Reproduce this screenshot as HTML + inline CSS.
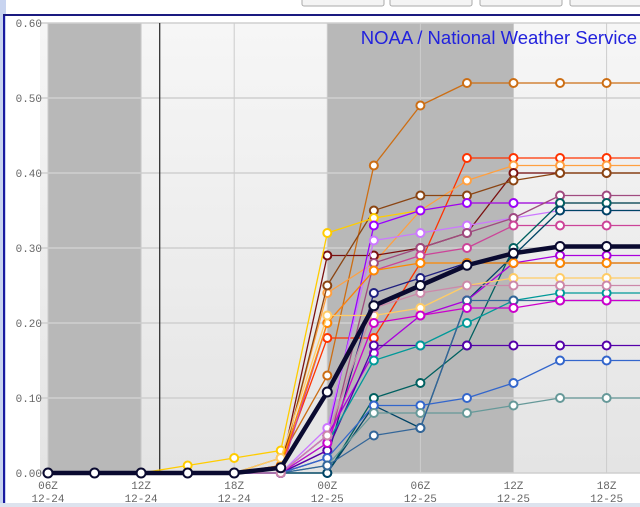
<!DOCTYPE html>
<html><head><meta charset="utf-8"><style>
body{margin:0;width:640px;height:507px;overflow:hidden;background:#fff;font-family:"Liberation Sans",sans-serif}
svg{display:block}
</style></head><body>
<svg id="chart" width="640" height="507" xmlns="http://www.w3.org/2000/svg">
<defs>
<linearGradient id="bg" x1="0" y1="0" x2="0" y2="1"><stop offset="0" stop-color="#f6f6f6"/><stop offset="1" stop-color="#e4e4e4"/></linearGradient>
</defs>
<rect x="0" y="0" width="640" height="507" fill="#fff"/>
<rect x="0" y="0" width="6" height="507" fill="#c8d4f0"/>
<rect x="3" y="14" width="2" height="493" fill="#1a1aa0"/>
<rect x="3" y="14" width="637" height="2" fill="#1a1a80"/>
<rect x="302" y="-4" width="82" height="10" rx="2" fill="#f4f4f4" stroke="#aaa"/>
<rect x="390" y="-4" width="82" height="10" rx="2" fill="#f4f4f4" stroke="#aaa"/>
<rect x="480" y="-4" width="82" height="10" rx="2" fill="#f4f4f4" stroke="#aaa"/>
<rect x="570" y="-4" width="82" height="10" rx="2" fill="#f4f4f4" stroke="#aaa"/>
<rect x="0" y="503" width="640" height="4" fill="#dde3ee"/>
<rect x="40" y="23" width="600" height="450" fill="url(#bg)"/>
<g id="bands"></g><g id="grid"></g><g id="axes"></g><g id="series"></g>
<text x="637" y="44" text-anchor="end" font-size="18.5" fill="#2222dd">NOAA / National Weather Service</text>
</svg>
<script>
const NS="http://www.w3.org/2000/svg";
const yTicks=[0,0.1,0.2,0.3,0.4,0.5,0.6];
const yTickLabels=["0.00","0.10","0.20","0.30","0.40","0.50","0.60"];
const xTickIdx=[0,2,4,6,8,10,12];
const xTickHour=["06Z","12Z","18Z","00Z","06Z","12Z","18Z"];
const xTickDate=["12-24","12-24","12-24","12-25","12-25","12-25","12-25"];
const nightBands=[[0,2],[6,10]];
const nowIdx=2.4;
const seriesColors=["#cc6e14","#ff3300","#ffa040","#7a1010","#8b4513","#ffcc00","#9900ff","#cc77ff","#a04a80","#cc4499","#006060","#004466","#202080","#aa00dd","#ff8800","#5500aa","#3366cc","#669999","#009999","#336699","#ffcc66","#cc00cc","#cc88aa"];
const s0=[0,0,0,0,0,0.02,0.13,0.41,0.49,0.52,0.52,0.52,0.52,0.52];
const s1=[0,0,0,0,0,0.01,0.18,0.18,0.28,0.42,0.42,0.42,0.42,0.42];
const s2=[0,0,0,0,0,0.01,0.24,0.28,0.35,0.39,0.41,0.41,0.41,0.41];
const s3=[0,0,0,0,0,0.005,0.29,0.29,0.30,0.32,0.40,0.40,0.40,0.40];
const s4=[0,0,0,0,0,0.005,0.25,0.35,0.37,0.37,0.39,0.40,0.40,0.40];
const s5=[0,0,0,0.01,0.02,0.03,0.32,0.34,0.35,0.36,0.36,0.36,0.36,0.36];
const s6=[0,0,0,0,0,0,0.05,0.33,0.35,0.36,0.36,0.36,0.36,0.36];
const s7=[0,0,0,0,0,0,0.06,0.31,0.32,0.33,0.34,0.35,0.35,0.35];
const s8=[0,0,0,0,0,0,0.03,0.28,0.30,0.32,0.34,0.37,0.37,0.37];
const s9=[0,0,0,0,0,0,0.20,0.27,0.29,0.30,0.33,0.33,0.33,0.33];
const s10=[0,0,0,0,0,0,0,0.10,0.12,0.17,0.30,0.36,0.36,0.36];
const s11=[0,0,0,0,0,0,0,0.09,0.06,0.23,0.29,0.35,0.35,0.35];
const s12=[0,0,0,0,0,0,0.02,0.24,0.26,0.28,0.28,0.28,0.28,0.28];
const s13=[0,0,0,0,0,0,0.05,0.16,0.21,0.23,0.28,0.29,0.29,0.29];
const s14=[0,0,0,0,0,0.01,0.20,0.27,0.28,0.28,0.28,0.28,0.28,0.28];
const s15=[0,0,0,0,0,0,0.03,0.17,0.17,0.17,0.17,0.17,0.17,0.17];
const s16=[0,0,0,0,0,0,0.02,0.09,0.09,0.10,0.12,0.15,0.15,0.15];
const s17=[0,0,0,0,0,0,0.01,0.08,0.08,0.08,0.09,0.10,0.10,0.10];
const s18=[0,0,0,0,0,0,0.04,0.15,0.17,0.20,0.23,0.24,0.24,0.24];
const s19=[0,0,0,0,0,0,0.01,0.05,0.06,0.23,0.23,0.23,0.23,0.23];
const s20=[0,0,0,0,0,0.02,0.21,0.21,0.22,0.25,0.26,0.26,0.26,0.26];
const s21=[0,0,0,0,0,0,0.04,0.20,0.21,0.22,0.22,0.23,0.23,0.23];
const s22=[0,0,0,0,0,0,0.05,0.22,0.24,0.25,0.25,0.25,0.25,0.25];
const meanValues=[0,0,0,0,0,0.007,0.108,0.223,0.25,0.277,0.293,0.302,0.302,0.302];
const allSeries=[s0,s1,s2,s3,s4,s5,s6,s7,s8,s9,s10,s11,s12,s13,s14,s15,s16,s17,s18,s19,s20,s21,s22];

const X0=48,DX=46.55,Y0=473,YS=750;
function xs(i){return X0+i*DX;}
function ys(v){return Y0-v*YS;}
function mk(tag,attrs,parent){const e=document.createElementNS(NS,tag);for(const k in attrs)e.setAttribute(k,attrs[k]);parent.appendChild(e);return e;}
const bands=document.getElementById('bands'),grid=document.getElementById('grid'),axes=document.getElementById('axes'),ser=document.getElementById('series');
nightBands.forEach(b=>{
  const r=mk('rect',{x:xs(b[0]),y:23,width:xs(b[1])-xs(b[0]),height:450,fill:'#b8b8b8'},bands);
  
  
});
yTicks.forEach((v,i)=>{
  const l=mk('line',{x1:40,x2:640,y1:ys(v),y2:ys(v),stroke:'#cfcfcf','stroke-width':1.5},grid);
  
  
  const t=mk('text',{x:42,y:ys(v)+4,'text-anchor':'end','font-size':11,fill:'#666','font-family':'Liberation Mono, monospace'},axes);
  t.textContent=yTickLabels[i];
  
  
});
xTickIdx.forEach((ix,i)=>{
  const l=mk('line',{x1:xs(ix),x2:xs(ix),y1:23,y2:473,stroke:'#cccccc','stroke-width':1},grid);
  
  
  const t=mk('text',{x:xs(ix),y:489,'text-anchor':'middle','font-size':11,fill:'#666','font-family':'Liberation Mono, monospace'},axes);
  t.textContent=xTickHour[i];
  
  
  const t2=mk('text',{x:xs(ix),y:502,'text-anchor':'middle','font-size':11,fill:'#666','font-family':'Liberation Mono, monospace'},axes);
  t2.textContent=xTickDate[i];
  
  
});
const nl=mk('line',{x1:xs(nowIdx),x2:xs(nowIdx),y1:23,y2:473,stroke:'#222','stroke-width':1.2},grid);


function drawSeries(vals,color,w,r,name){
  const g=mk('g',{},ser);
  
  
  mk('polyline',{points:vals.map((v,i)=>xs(i)+','+ys(v)).join(' '),fill:'none',stroke:color,'stroke-width':w,'stroke-linejoin':'round'},g);
  vals.forEach((v,i)=>{
    const c=mk('circle',{cx:xs(i),cy:ys(v),r:r,fill:'#fff',stroke:color,'stroke-width':2},g);
    
    
  });
}
allSeries.forEach((s,k)=>drawSeries(s,seriesColors[k],1.3,4,'member-series-'+k));
drawSeries(meanValues,'#0a0a30',4.5,4.5,'ensemble-mean-series');
</script>
</body></html>
